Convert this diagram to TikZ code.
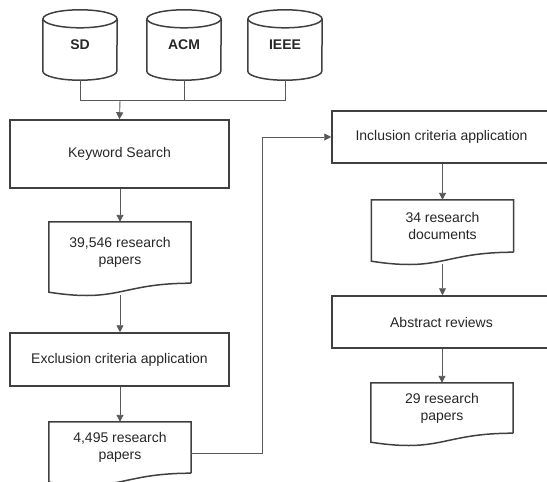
\documentclass[tikz,border=0pt]{standalone}
\usepackage{fontspec}
\setmainfont{Liberation Sans}
\usetikzlibrary{calc, arrows.meta}

\tikzset{
  boxline/.style={draw=black!75, line width=1.5pt},
  box/.style={boxline, minimum width=219pt, minimum height=52pt, inner sep=0pt},
  doc/.style={minimum width=142pt, inner sep=0pt, align=center},
  db/.style={minimum width=74pt, minimum height=70pt, inner sep=0pt,
    font=\fontsize{14}{17}\selectfont\bfseries},
  link/.style={draw=black!65, line width=0.9pt},
  arr/.style={link, -{Triangle[length=7pt, width=7pt]}}
}
% document outline with a wavy bottom edge
\newcommand\docedge[1]{%
  \draw[boxline] (#1.south east) -- (#1.north east) -- (#1.north west)
    -- ($(#1.south west)+(0,9)$)
    .. controls ($(#1.south)+(0,20)$) and (#1.south) .. (#1.south east);}
% database cylinder round a node
\newcommand\dbedge[1]{%
  \draw[boxline] ($(#1.north)+(0,9)$) ellipse [x radius=37pt, y radius=9pt];
  \draw[boxline] ($(#1.north west)+(0,9)$) -- ($(#1.south west)+(0,-9)$)
    arc (180:360:37pt and 9pt) -- ($(#1.north east)+(0,9)$);}

\begin{document}
\begin{tikzpicture}[x=1pt, y=-1pt, font=\fontsize{14}{17}\selectfont, text=black!85]
  \useasboundingbox (0,0) rectangle (547,482);
  \clip (0,0) rectangle (547,482);

  % databases
  \node[db] (sd) at (80,45) {\raisebox{-4pt}{SD}};
  \node[db] (acm) at (184,45) {\raisebox{-4pt}{ACM}};
  \node[db] (ieee) at (285,45) {\raisebox{-4pt}{IEEE}};
  \foreach \n in {sd, acm, ieee} {\dbedge{\n}}

  % left column
  \node[box, minimum height=68pt] (search) at (119.5,154) {Keyword Search};
  \node[doc, minimum height=61pt] (found) at (120,252.5) {39,546 research\\papers};
  \docedge{found}
  \node[box, minimum height=53pt] (exclude) at (119.5,359.5) {Exclusion criteria application};
  \node[doc, minimum height=51pt] (kept) at (120,447.5) {4,495 research\\papers};
  \docedge{kept}

  % right column
  \node[box] (include) at (441.5,137) {Inclusion criteria application};
  \node[doc, minimum height=52pt] (docs) at (442.5,226) {34 research\\documents};
  \docedge{docs}
  \node[box] (review) at (441.5,322) {Abstract reviews};
  \node[doc, minimum height=50pt] (final) at (442,408) {29 research\\papers};
  \docedge{final}

  % connectors
  \coordinate (join) at (120,100.5);
  \draw[link] (sd.south) |- (join) -| (ieee.south);
  \draw[link] (acm.south) -- (acm.south |- join);
  \draw[arr] (join) -- (search.north);
  \draw[arr] (search.south -| found.north) -- (found.north);
  \draw[arr] ($(found.south)+(0,12)$) -- (exclude.north -| found.south);
  \draw[arr] (exclude.south -| kept.north) -- (kept.north);
  \draw[arr] ($(kept.east)+(0,6)$) -- ++(71,0) |- (include.west);
  \draw[arr] (include.south -| docs.north) -- (docs.north);
  \draw[arr] ($(docs.south)+(0,12)$) -- (review.north -| docs.south);
  \draw[arr] (review.south -| final.north) -- (final.north);
\end{tikzpicture}
\end{document}
